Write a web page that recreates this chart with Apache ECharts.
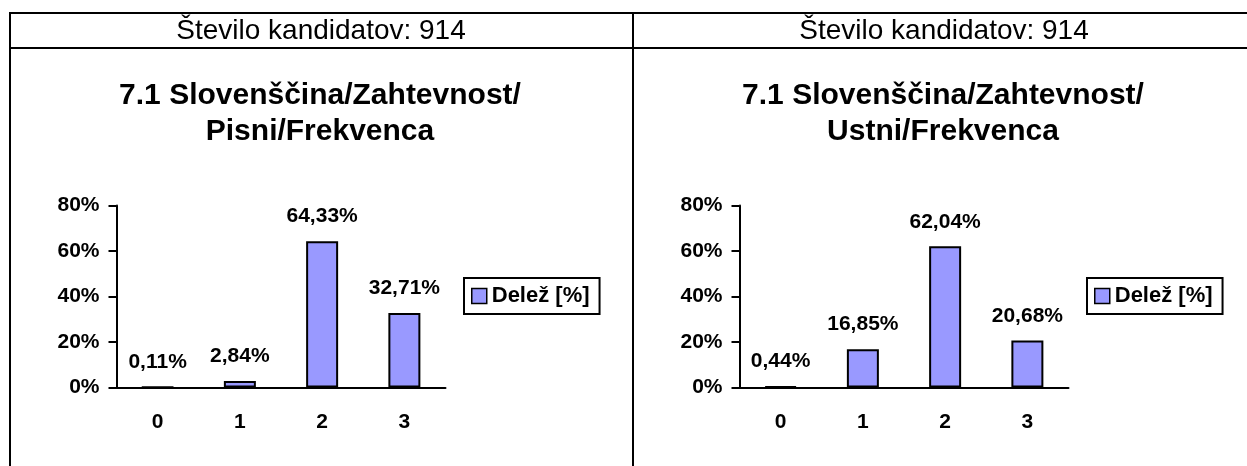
<!DOCTYPE html>
<html>
<head>
<meta charset="utf-8">
<title>Slovenščina - frekvenca</title>
<script src="https://cdn.jsdelivr.net/npm/echarts@6/dist/echarts.min.js"></script>
<style>
  html, body { margin: 0; padding: 0; background: #fff; }
  #chart { width: 1247px; height: 466px; }
</style>
</head>
<body>
<div id="chart"></div>
<script>
// podatki
var kategorije = ['0', '1', '2', '3'];
var pisni = [0.11, 2.84, 64.33, 32.71];
var ustni = [0.44, 16.85, 62.04, 20.68];
var yTicks = [0, 20, 40, 60, 80];
var glava = 'Število kandidatov: 914';
var naslovPisni = '7.1 Slovenščina/Zahtevnost/\nPisni/Frekvenca';
var naslovUstni = '7.1 Slovenščina/Zahtevnost/\nUstni/Frekvenca';
var imeSerije = 'Delež [%]';

var font = "'Liberation Sans', Arial, sans-serif";
var dx = 623; // zamik desne celice

function xAxisFor(i) {
    return {
        type: 'category',
        gridIndex: i,
        data: kategorije,
        axisLine: { lineStyle: { color: '#000', width: 2 } },
        axisTick: { length: 6, lineStyle: { color: '#000', width: 2 } },
        axisLabel: { color: '#000', fontFamily: font, fontWeight: 'bold', fontSize: 21, margin: 24 }
    };
}

function yAxisFor(i) {
    return {
        type: 'value',
        gridIndex: i,
        min: yTicks[0],
        max: yTicks[yTicks.length - 1],
        interval: 20,
        axisLine: { show: true, lineStyle: { color: '#000', width: 2 } },
        axisTick: { show: true, length: 8, lineStyle: { color: '#000', width: 2 } },
        splitLine: { show: false },
        axisLabel: { color: '#000', fontFamily: font, fontWeight: 'bold', fontSize: 21, margin: 17, formatter: '{value}%' }
    };
}

function barFor(i, data) {
    return {
        name: imeSerije,
        type: 'bar',
        xAxisIndex: i,
        yAxisIndex: i,
        barWidth: 32,
        data: data,
        itemStyle: { color: '#9999ff', borderColor: '#000', borderWidth: 2 },
        label: {
            show: true,
            position: 'top',
            distance: 14,
            color: '#000',
            fontFamily: font,
            fontWeight: 'bold',
            fontSize: 21,
            formatter: function (p) { return p.value.toFixed(2).replace('.', ',') + '%'; }
        }
    };
}

function legendFor(x) {
    return {
        left: x,
        top: 278,
        data: [imeSerije],
        orient: 'vertical',
        borderColor: '#000',
        borderWidth: 2,
        padding: [7, 10, 7, 7],
        itemWidth: 15,
        itemHeight: 15,
        icon: 'rect',
        itemStyle: { borderColor: '#000', borderWidth: 1.5 },
        selectedMode: false,
        textStyle: { color: '#000', fontFamily: font, fontWeight: 'bold', fontSize: 22 }
    };
}

function headerFor(x, text) {
    return {
        text: text,
        left: x,
        top: 31,
        padding: 0,
        textAlign: 'center',
        textVerticalAlign: 'middle',
        textStyle: { color: '#000', fontFamily: font, fontWeight: 'normal', fontSize: 28 }
    };
}

function titleFor(x, text) {
    return {
        text: text,
        left: x,
        top: 78,
        padding: 0,
        textAlign: 'center',
        textVerticalAlign: 'top',
        textStyle: { color: '#000', fontFamily: font, fontWeight: 'bold', fontSize: 30, lineHeight: 36 }
    };
}

function crta(x1, y1, x2, y2) {
    return { type: 'line', shape: { x1: x1, y1: y1, x2: x2, y2: y2 }, style: { stroke: '#000', lineWidth: 2 } };
}

var myChart = echarts.init(document.getElementById('chart'));

var option = {
    animation: false,
    title: [
        headerFor(321, glava),
        headerFor(321 + dx, glava),
        titleFor(320, naslovPisni),
        titleFor(320 + dx, naslovUstni)
    ],
    legend: [legendFor(464), legendFor(464 + dx)],
    grid: [
        { left: 116.5, top: 205.5, width: 329, height: 182 },
        { left: 116.5 + dx, top: 205.5, width: 329, height: 182 }
    ],
    xAxis: [xAxisFor(0), xAxisFor(1)],
    yAxis: [yAxisFor(0), yAxisFor(1)],
    series: [barFor(0, pisni), barFor(1, ustni)],
    graphic: [
        crta(10, 13, 1247, 13),
        crta(10, 48, 1247, 48),
        crta(10, 12, 10, 466),
        crta(633, 12, 633, 466)
    ]
};

myChart.setOption(option);
</script>
</body>
</html>
